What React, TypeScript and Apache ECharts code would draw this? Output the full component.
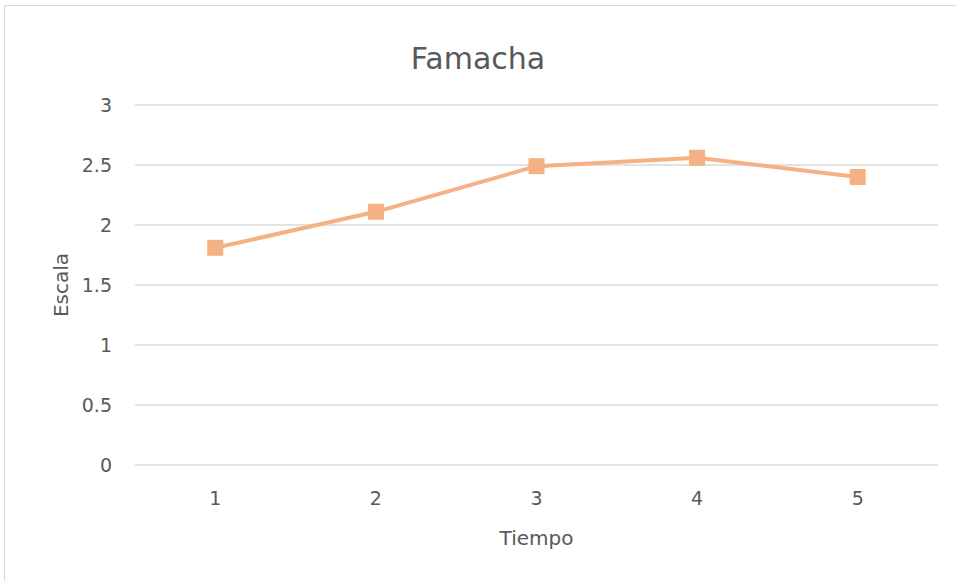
import React, { useEffect, useRef } from "react";
import * as echarts from "echarts";

const categories = ["1", "2", "3", "4", "5"];
const famacha = [1.81, 2.11, 2.49, 2.56, 2.4];
const yTicks = { min: 0, max: 3, interval: 0.5 };
const titleText = "Famacha";
const xName = "Tiempo";
const yName = "Escala";

const FONT = "DejaVu Sans";
const TEXT = "#595959";
const GRID = "#D9D9D9";
const LINE = "#F4B183";

export default function App() {
  const ref = useRef<HTMLDivElement>(null);
  useEffect(() => {
    document.body.style.margin = "0";
    const chart = echarts.init(ref.current!, null, { renderer: "svg" });
    chart.setOption({
      animation: false,
      backgroundColor: "#ffffff",
      title: {
        text: titleText,
        left: "center",
        top: 38,
        textStyle: { fontFamily: FONT, fontSize: 30, fontWeight: "normal", color: TEXT },
      },
      grid: { left: 135, right: 18, top: 105, bottom: 116 },
      graphic: [
        {
          type: "rect",
          shape: { x: 4.5, y: 5.5, width: 1000, height: 1000 },
          style: { fill: "none", stroke: GRID, lineWidth: 1 },
          silent: true,
        },
      ],
      xAxis: {
        type: "category",
        data: categories,
        boundaryGap: true,
        name: xName,
        nameLocation: "middle",
        nameGap: 63,
        nameTextStyle: { fontFamily: FONT, fontSize: 20, color: TEXT },
        axisLine: { show: false },
        axisTick: { show: false },
        axisLabel: { fontFamily: FONT, fontSize: 19, color: TEXT, margin: 23 },
      },
      yAxis: {
        type: "value",
        min: yTicks.min,
        max: yTicks.max,
        interval: yTicks.interval,
        name: yName,
        nameLocation: "middle",
        nameGap: 60,
        nameTextStyle: { fontFamily: FONT, fontSize: 20, color: TEXT },
        axisLine: { show: false },
        axisTick: { show: false },
        axisLabel: { fontFamily: FONT, fontSize: 19, color: TEXT, margin: 23 },
        splitLine: { lineStyle: { color: GRID, width: 1.5 } },
      },
      series: [
        {
          type: "line",
          data: famacha,
          symbol: "rect",
          symbolSize: 16,
          lineStyle: { color: LINE, width: 4 },
          itemStyle: { color: LINE },
        },
      ],
    });
    return () => chart.dispose();
  }, []);
  return <div ref={ref} style={{ width: 956, height: 581 }} />;
}
